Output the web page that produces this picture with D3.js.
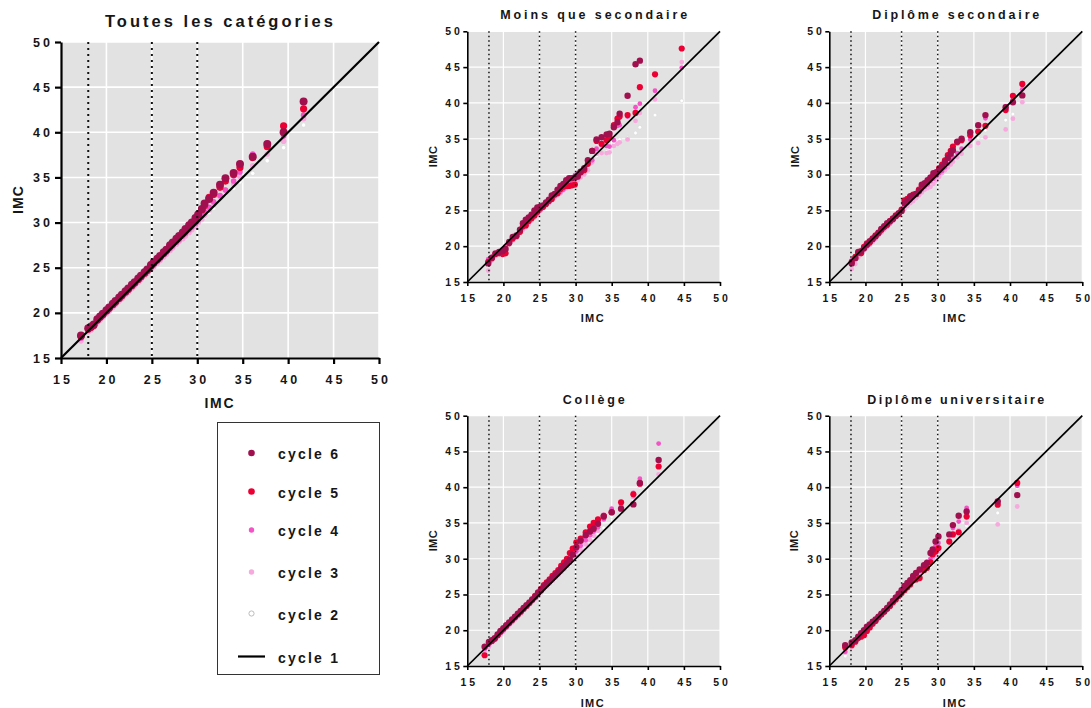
<!DOCTYPE html>
<html>
<head>
<meta charset="utf-8">
<script src="https://cdn.jsdelivr.net/npm/d3@7"></script>
<style>
  body { margin: 0; background: #ffffff; }
  svg text { font-family: "Liberation Sans", Arial, sans-serif; font-weight: bold; fill: #161616; }
</style>
</head>
<body>
<svg id="chart" width="1091" height="708"></svg>
<script>
// Shared axis ticks and reference cut-offs (IMC 18, 25, 30)
const tickValues = [15, 20, 25, 30, 35, 40, 45, 50];
const refLines = [18, 25, 30];
const legendLabels = ["cycle 6", "cycle 5", "cycle 4", "cycle 3", "cycle 2", "cycle 1"];

// Toutes les catégories: quantiles of cycle 1 (x) against cycles 6..2 (y)
const toutesX  = [17.2,18.0,18.3,18.6,19.0,19.3,19.6,20.0,20.3,20.7,21.0,21.4,21.7,22.1,22.4,22.8,23.1,23.5,23.8,24.2,24.5,24.9,25.2,25.6,25.9,26.3,26.6,27.0,27.3,27.7,28.0,28.4,28.7,29.1,29.4,29.8,30.1,30.5,30.8,31.3,31.8,32.5,33.1,34.0,34.7,36.1,37.7,39.5,41.7];
const toutesC6 = [17.5,18.3,18.5,18.7,19.3,19.6,19.9,20.3,20.6,21.0,21.3,21.7,22.0,22.4,22.7,23.1,23.4,23.8,24.1,24.5,24.8,25.3,25.6,26.0,26.3,26.7,27.0,27.5,27.8,28.2,28.5,28.9,29.3,29.7,30.0,30.5,30.9,31.5,32.1,32.6,33.3,34.2,34.9,35.5,36.5,37.3,38.7,40.0,43.4];
const toutesC5 = [17.4,18.2,18.4,18.6,19.2,19.5,19.8,20.2,20.5,20.9,21.2,21.6,21.9,22.3,22.6,23.0,23.3,23.7,24.0,24.4,24.7,25.2,25.5,25.9,26.2,26.6,26.9,27.4,27.7,28.1,28.4,28.8,29.1,29.6,29.9,30.4,30.9,31.4,31.9,32.8,33.1,33.9,34.6,35.3,36.1,37.2,38.4,40.7,42.6];
const toutesC4 = [17.2,18.1,18.3,18.5,19.1,19.4,19.7,20.1,20.4,20.8,21.1,21.5,21.8,22.2,22.5,22.9,23.2,23.6,23.9,24.3,24.6,25.0,25.3,25.7,26.0,26.4,26.7,27.1,27.4,27.8,28.1,28.5,28.8,29.2,29.5,29.9,30.3,30.8,31.2,31.7,32.3,33.0,33.6,34.6,35.6,37.6,38.8,39.6,41.9];
const toutesC3 = [16.9,17.9,18.1,18.4,18.9,19.2,19.5,19.9,20.2,20.6,20.9,21.3,21.6,22.0,22.3,22.7,23.0,23.4,23.7,24.1,24.4,24.8,25.1,25.5,25.8,26.2,26.5,26.9,27.2,27.6,27.9,28.2,28.5,28.9,29.2,29.6,30.0,30.4,30.8,31.4,32.0,32.9,33.6,34.3,35.1,36.3,37.6,39.0,41.5];
const toutesC2 = [17.1,17.9,18.2,18.5,18.9,19.2,19.5,19.9,20.2,20.6,20.9,21.3,21.6,22.0,22.3,22.7,23.0,23.4,23.7,24.1,24.4,24.8,25.1,25.5,25.8,26.2,26.5,26.9,27.2,27.6,27.9,28.3,28.6,29.0,29.3,29.6,29.9,30.3,30.6,31.1,31.6,32.8,33.1,33.8,34.5,35.45,36.85,38.3,40.8];

// Moins que secondaire
const moinsX  = [17.9,18.4,18.9,19.4,19.9,20.3,20.8,21.3,21.8,22.3,22.7,23.1,23.5,23.9,24.3,24.7,25.1,25.5,25.9,26.3,26.7,27.1,27.5,27.9,28.3,28.7,29.1,29.5,29.9,30.3,30.7,31.2,31.7,32.3,32.9,33.6,34.3,34.7,35.3,35.8,36.1,37.2,38.3,38.9,41.0,44.7];
const moinsC6 = [17.6,18.4,19.0,19.2,19.3,19.6,20.6,21.3,21.5,22.3,23.2,23.7,24.0,24.4,25.0,25.4,25.5,25.7,26.1,26.5,27.1,27.3,27.9,28.4,28.7,29.2,29.5,29.5,29.6,29.8,30.4,30.9,32.0,33.3,34.9,35.2,35.6,35.7,36.6,37.3,38.5,41.0,45.4,45.9,null,null];
const moinsC5 = [17.8,18.3,18.9,19.0,18.9,19.0,20.4,21.1,21.4,22.0,22.8,22.9,23.5,23.9,24.3,24.8,25.3,25.5,25.9,26.3,26.6,27.2,27.4,28.0,28.3,28.4,28.4,28.5,28.6,29.7,30.3,30.6,31.5,33.3,34.7,34.3,34.8,35.2,36.9,37.8,38.1,38.3,38.6,42.2,44.0,47.6];
const moinsC4 = [18.2,18.5,18.8,19.3,19.6,20.0,20.5,20.9,21.4,22.2,22.6,23.0,23.4,23.8,24.2,24.6,25.0,25.4,25.8,26.2,26.7,27.0,27.3,27.6,27.9,28.3,28.8,29.3,29.9,30.2,30.4,30.8,31.5,32.0,33.6,34.1,34.0,33.9,34.8,36.8,36.9,38.1,39.4,39.9,41.7,44.9];
const moinsC3 = [16.6,18.0,18.6,19.1,19.5,19.9,20.4,20.8,21.3,21.9,22.3,22.7,23.1,23.6,24.0,24.4,24.9,25.3,25.7,26.0,26.4,26.8,27.1,27.4,27.8,28.1,28.4,28.7,28.9,29.2,29.6,30.0,30.6,31.7,32.9,33.0,33.0,33.1,34.0,34.3,34.5,34.9,37.5,38.6,40.5,45.7];
const moinsC2 = [17.3,18.1,18.7,19.2,19.6,20.0,20.5,20.9,21.4,22.0,22.4,22.8,23.2,23.7,24.1,24.5,25.0,25.4,25.8,26.1,26.5,26.9,27.2,27.5,27.9,28.2,28.5,28.8,29.0,29.3,29.7,30.1,30.7,31.9,32.6,33.1,33.2,33.4,34.2,34.8,34.9,35.1,35.8,36.6,38.3,40.3];

// Diplôme secondaire
const secX  = [18.1,18.6,19.0,19.4,19.8,20.2,20.6,21.0,21.4,21.8,22.2,22.6,23.0,23.4,23.8,24.2,24.6,25.0,25.4,25.8,26.2,26.6,27.0,27.4,27.8,28.2,28.6,29.0,29.4,29.8,30.2,30.6,31.0,31.4,31.8,32.1,32.7,33.3,34.5,35.6,36.6,39.4,40.4,41.7];
const secC6 = [17.6,18.3,19.1,19.3,19.7,20.2,20.7,21.0,21.4,21.9,22.4,22.8,23.2,23.5,23.8,24.2,24.6,24.9,26.0,26.4,26.9,27.1,27.3,27.7,28.6,28.8,29.2,29.6,30.2,30.3,30.7,31.1,31.7,32.3,32.9,33.4,34.6,35.0,35.9,36.9,38.3,39.4,40.1,41.05];
const secC5 = [17.8,18.5,19.2,19.0,19.9,20.4,20.5,21.1,21.5,21.8,22.3,22.7,23.0,23.5,23.9,24.3,24.5,25.1,26.4,26.6,27.0,27.2,27.3,27.9,28.4,28.7,29.0,29.5,29.9,30.3,30.9,31.4,32.0,32.7,33.3,33.9,34.5,34.8,35.5,36.0,36.8,39.0,41.0,42.65];
const secC4 = [18.0,18.6,18.9,19.3,19.6,20.0,20.4,20.8,21.2,21.7,22.1,22.5,22.8,23.2,23.6,24.1,24.5,25.0,25.6,26.0,26.4,26.8,27.1,27.5,27.9,28.3,28.6,29.1,29.4,29.8,30.2,30.5,31.0,31.5,32.0,32.4,33.0,33.6,34.9,35.9,37.85,39.5,40.5,41.9];
const secC3 = [16.8,17.5,18.4,19.0,19.4,19.8,20.2,20.6,21.0,21.5,21.9,22.3,22.7,23.1,23.6,24.0,24.4,24.8,25.2,25.6,26.0,26.3,26.7,27.1,27.5,27.9,28.1,28.3,28.7,29.2,29.7,30.2,30.6,31.0,31.4,31.8,32.4,32.9,34.0,34.4,35.2,36.3,37.8,40.1];
const secC2 = [17.4,18.0,18.7,19.1,19.5,19.9,20.3,20.7,21.1,21.6,22.0,22.4,22.8,23.2,23.7,24.1,24.5,24.9,25.3,25.7,26.1,26.4,26.8,27.2,27.6,28.0,28.3,28.6,29.0,29.4,29.9,30.3,30.7,31.1,31.5,31.9,32.5,33.0,34.2,35.1,36.2,37.6,38.45,40.3];

// Collège
const collegeX  = [17.4,18.0,18.4,18.8,19.2,19.6,20.0,20.4,20.8,21.2,21.6,22.0,22.4,22.8,23.2,23.6,24.0,24.4,24.8,25.2,25.6,26.0,26.4,26.8,27.2,27.6,28.0,28.4,28.8,29.2,29.6,30.1,30.7,31.4,32.0,32.5,33.1,33.9,35.0,36.3,38.0,38.9,41.5];
const collegeC6 = [17.7,18.35,18.6,18.9,19.4,19.9,20.3,20.7,21.1,21.5,21.9,22.3,22.7,23.1,23.5,23.9,24.3,24.7,25.2,25.6,26.1,26.5,26.9,27.3,27.7,28.1,28.6,29.0,29.4,29.9,30.6,31.6,32.5,33.3,33.8,34.2,34.9,35.9,36.5,37.0,37.6,40.6,43.8];
const collegeC5 = [16.5,18.3,18.5,18.8,19.3,19.8,20.2,20.6,21.0,21.4,21.8,22.2,22.6,23.0,23.4,23.8,24.3,24.8,25.3,25.8,26.3,26.7,27.1,27.6,28.0,28.4,29.0,29.5,30.0,30.8,31.4,32.3,32.8,33.7,34.5,35.0,35.5,36.0,36.5,37.9,39.0,40.5,42.9];
const collegeC4 = [17.4,18.0,18.4,18.8,19.2,19.6,20.0,20.4,20.9,21.3,21.7,22.1,22.5,22.9,23.3,23.7,24.1,24.6,25.1,25.5,26.0,26.4,26.8,27.2,27.6,28.0,28.4,28.9,29.4,29.9,30.4,31.0,31.8,32.6,33.3,33.8,34.4,35.5,37.0,37.5,39.2,41.2,46.1];
const collegeC3 = [17.1,17.7,18.3,18.7,19.1,19.4,19.8,20.3,20.7,21.1,21.5,21.9,22.3,22.8,23.2,23.6,24.0,24.4,24.8,25.3,25.7,26.1,26.5,26.9,27.3,27.7,28.1,28.5,29.0,29.4,29.8,30.4,31.2,32.0,32.6,33.2,33.9,36.2,36.9,36.8,38.6,40.3,41.8];
const collegeC2 = [17.3,17.9,18.3,18.7,19.1,19.5,19.9,20.3,20.7,21.1,21.5,21.9,22.3,22.7,23.1,23.5,23.9,24.3,24.7,25.1,25.5,25.9,26.3,26.7,27.1,27.5,27.9,28.3,28.7,29.1,29.5,30.0,30.8,31.6,32.3,32.9,33.5,34.3,35.9,36.3,38.3,40.0,41.6];

// Diplôme universitaire
const univX  = [17.2,18.1,18.6,19.0,19.4,19.8,20.2,20.6,21.0,21.4,21.8,22.2,22.6,23.0,23.4,23.8,24.2,24.6,25.0,25.4,25.8,26.2,26.6,27.0,27.5,28.1,28.5,29.0,29.3,29.7,30.1,31.6,32.1,32.9,34.0,38.3,41.0];
const univC6 = [17.9,18.3,18.6,19.1,19.6,20.0,20.5,20.8,21.2,21.5,21.9,22.3,22.7,23.1,23.6,24.1,24.6,25.1,25.6,26.2,26.6,27.0,27.6,28.0,28.5,29.1,29.4,30.8,31.3,32.4,33.1,33.4,34.7,36.0,36.6,38.0,38.9];
const univC5 = [17.6,17.9,18.4,18.9,19.1,19.3,19.9,20.4,20.9,21.3,21.8,22.2,22.6,23.0,23.4,23.9,24.3,24.8,25.2,25.6,26.0,26.4,27.0,27.1,27.3,28.4,28.7,29.5,30.6,31.0,31.5,32.4,33.4,33.7,35.9,37.55,40.6];
const univC4 = [17.0,18.0,18.5,19.0,19.4,19.8,20.3,20.7,21.1,21.5,21.9,22.3,22.7,23.1,23.5,24.0,24.5,25.0,25.5,26.0,26.4,26.8,27.3,27.95,28.3,28.9,29.6,30.0,31.1,31.8,32.2,33.4,34.3,35.2,37.1,37.8,40.2];
const univC3 = [16.9,17.7,18.3,18.8,19.2,19.6,20.0,20.5,20.9,21.3,21.7,22.1,22.5,22.9,23.4,23.8,24.2,24.6,25.1,25.6,26.0,26.4,26.8,27.3,27.8,28.5,29.0,29.6,30.0,30.5,31.0,32.6,33.2,34.0,35.0,34.8,37.3];
const univC2 = [16.4,17.8,18.4,18.9,19.3,19.7,20.1,20.5,20.9,21.3,21.7,22.1,22.5,22.9,23.3,23.7,24.1,24.5,24.9,25.3,25.7,26.1,26.5,26.9,27.4,28.0,28.4,28.9,29.2,29.6,30.0,31.5,32.0,32.8,34.6,36.4,39.9];

// ---- styling ----
const seriesOrder = ["c2", "c3", "c4", "c5", "c6"];
const seriesFill = { c6: "#a0104f", c5: "#ec0033", c4: "#f552c8", c3: "#f7a9de", c2: "#ffffff" };
const seriesStroke = { c6: "none", c5: "none", c4: "none", c3: "none", c2: "#d8d8d8" };
const radiusBig = { c6: 4.0, c5: 3.6, c4: 2.8, c3: 2.8, c2: 2.2 };
const radiusSmall = { c6: 3.2, c5: 3.1, c4: 2.4, c3: 2.4, c2: 1.9 };

const panels = [
  { title: "Toutes les catégories", xs: toutesX,
    ys: { c6: toutesC6, c5: toutesC5, c4: toutesC4, c3: toutesC3, c2: toutesC2 },
    l: 61, r: 379, t: 42, b: 358, big: true,
    titleX: 219, titleY: 27, titleW: 228, xlabY: 408, xlabW: 29, ylabX: 22.7, ylabW: 28 },
  { title: "Moins que secondaire", xs: moinsX,
    ys: { c6: moinsC6, c5: moinsC5, c4: moinsC4, c3: moinsC3, c2: moinsC2 },
    l: 467.3, r: 720, t: 31.3, b: 282, big: false,
    titleY: 19, titleW: 187, xlabY: 322, xlabW: 23, ylabX: 437, ylabW: 21 },
  { title: "Diplôme secondaire", xs: secX,
    ys: { c6: secC6, c5: secC5, c4: secC4, c3: secC3, c2: secC2 },
    l: 829.3, r: 1082.3, t: 31.3, b: 282, big: false,
    titleY: 19, titleW: 167, xlabY: 322, xlabW: 23, ylabX: 799, ylabW: 21 },
  { title: "Collège", xs: collegeX,
    ys: { c6: collegeC6, c5: collegeC5, c4: collegeC4, c3: collegeC3, c2: collegeC2 },
    l: 467.3, r: 720, t: 415.7, b: 666, big: false,
    titleY: 404, titleW: 62, xlabY: 707, xlabW: 23, ylabX: 437, ylabW: 21 },
  { title: "Diplôme universitaire", xs: univX,
    ys: { c6: univC6, c5: univC5, c4: univC4, c3: univC3, c2: univC2 },
    l: 829.3, r: 1082.3, t: 415.7, b: 666, big: false,
    titleY: 404, titleW: 177, xlabY: 707, xlabW: 23, ylabX: 798.5, ylabW: 21 }
];

const svg = d3.select("#chart");

function label(g, str, x, y, size, width, anchor, rotate) {
  const t = g.append("text")
    .attr("x", x).attr("y", y)
    .attr("font-size", size)
    .attr("text-anchor", anchor || "middle")
    .attr("textLength", width)
    .attr("lengthAdjust", "spacing")
    .text(str);
  if (rotate) t.attr("transform", `rotate(${rotate},${x},${y})`);
  return t;
}

function drawPanel(p) {
  const big = p.big;
  const g = svg.append("g");
  const x = d3.scaleLinear().domain([15, 50]).range([p.l, p.r]);
  const y = d3.scaleLinear().domain([15, 50]).range([p.b, p.t]);

  // plot background
  g.append("rect")
    .attr("x", p.l).attr("y", p.t)
    .attr("width", p.r - p.l).attr("height", p.b - p.t)
    .attr("fill", "#e2e2e2");

  // white grid
  const gridW = big ? 1.6 : 1.2;
  g.append("g").selectAll("line").data(tickValues.slice(1)).join("line")
    .attr("x1", d => x(d)).attr("x2", d => x(d))
    .attr("y1", p.t).attr("y2", p.b)
    .attr("stroke", "#ffffff").attr("stroke-width", gridW);
  g.append("g").selectAll("line").data(tickValues.slice(1)).join("line")
    .attr("y1", d => y(d)).attr("y2", d => y(d))
    .attr("x1", p.l).attr("x2", p.r)
    .attr("stroke", "#ffffff").attr("stroke-width", gridW);

  // points, oldest cycle underneath
  const rad = big ? radiusBig : radiusSmall;
  seriesOrder.forEach(key => {
    const pts = p.xs.map((v, i) => ({ x: v, y: p.ys[key][i] })).filter(d => d.y != null);
    g.append("g").selectAll("circle").data(pts).join("circle")
      .attr("cx", d => x(d.x)).attr("cy", d => y(d.y))
      .attr("r", rad[key])
      .attr("fill", seriesFill[key])
      .attr("stroke", seriesStroke[key])
      .attr("stroke-width", 0.6);
  });

  // dotted cut-off lines
  g.append("g").selectAll("line").data(refLines).join("line")
    .attr("x1", d => x(d)).attr("x2", d => x(d))
    .attr("y1", p.t).attr("y2", p.b)
    .attr("stroke", "#111")
    .attr("stroke-width", big ? 2 : 1.5)
    .attr("stroke-dasharray", big ? "2,4" : "1.5,3");

  // identity line (cycle 1)
  g.append("line")
    .attr("x1", x(15)).attr("y1", y(15))
    .attr("x2", x(50)).attr("y2", y(50))
    .attr("stroke", "#000").attr("stroke-width", big ? 2.2 : 1.7);

  // axes
  const tickSize = big ? 6 : 4;
  const fs = big ? 12.5 : 10.5;
  const tw = big ? 17 : 14.5;
  const axisW = big ? 2.2 : 1.6;

  const ax = g.append("g").attr("transform", `translate(0,${p.b})`)
    .call(d3.axisBottom(x).tickValues(tickValues).tickSize(tickSize).tickSizeOuter(0)
      .tickPadding(big ? 11.2 : 8.2));
  const ay = g.append("g").attr("transform", `translate(${p.l},0)`)
    .call(d3.axisLeft(y).tickValues(tickValues).tickSize(tickSize).tickSizeOuter(0)
      .tickPadding(big ? 5 : 3.5));
  [ax, ay].forEach(a => {
    a.select(".domain").attr("stroke", "#000").attr("stroke-width", axisW);
    a.selectAll(".tick line").attr("stroke", "#000").attr("stroke-width", axisW);
    a.selectAll(".tick text")
      .attr("font-size", fs).attr("font-family", null)
      .attr("fill", "#161616")
      .attr("textLength", tw).attr("lengthAdjust", "spacing");
  });

  // titles and axis labels
  const cx = (p.l + p.r) / 2;
  const cy = (p.t + p.b) / 2;
  label(g, p.title, big ? p.titleX : cx, p.titleY, big ? 16.5 : 12.5, p.titleW, "middle");
  label(g, "IMC", big ? 219 : cx - 1.5, p.xlabY, big ? 14 : 11, p.xlabW, "middle");
  label(g, "IMC", p.ylabX, cy, big ? 14 : 11, p.ylabW, "middle", -90);
}

panels.forEach(drawPanel);

// ---- legend ----
const lg = svg.append("g");
lg.append("rect")
  .attr("x", 217.5).attr("y", 422.5)
  .attr("width", 162).attr("height", 252)
  .attr("fill", "#ffffff").attr("stroke", "#333").attr("stroke-width", 1);

const legendKeys = ["c6", "c5", "c4", "c3", "c2", "line"];
const legendRowY = [453, 491.5, 530, 572, 613.5, 656.5];
const legendRad = { c6: 3.3, c5: 3.3, c4: 2.7, c3: 2.7, c2: 2.6 };
legendKeys.forEach((k, i) => {
  const yy = legendRowY[i];
  if (k === "line") {
    lg.append("line").attr("x1", 238).attr("x2", 265).attr("y1", yy).attr("y2", yy)
      .attr("stroke", "#000").attr("stroke-width", 2.2);
  } else {
    lg.append("circle").attr("cx", 251.5).attr("cy", yy).attr("r", legendRad[k])
      .attr("fill", seriesFill[k])
      .attr("stroke", k === "c2" ? "#bdbdbd" : "none").attr("stroke-width", 1);
  }
  label(lg, legendLabels[i], 278, yy + 6, 14, 60, "start");
});
</script>
</body>
</html>
